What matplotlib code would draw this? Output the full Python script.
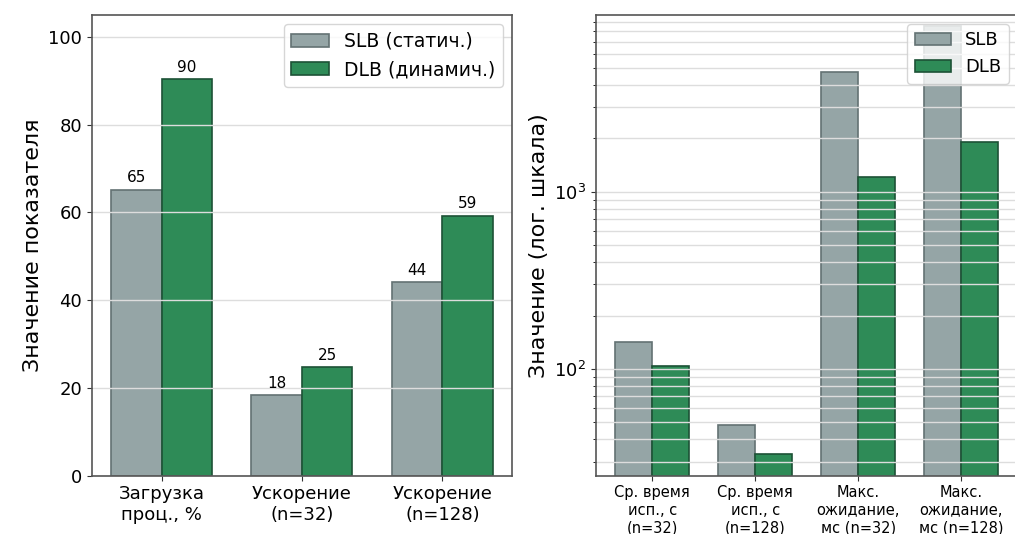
import matplotlib
matplotlib.use("Agg")
import matplotlib.pyplot as plt
import numpy as np

# Левый график: загрузка и ускорение
left_labels = ["Загрузка\nпроц., %", "Ускорение\n(n=32)", "Ускорение\n(n=128)"]
left_slb = [65.2, 18.3, 44.1]
left_dlb = [90.4, 24.7, 59.3]

# Правый график: время и ожидание (лог. шкала)
right_labels = ["Ср. время\nисп., с\n(n=32)", "Ср. время\nисп., с\n(n=128)",
                "Макс.\nожидание,\nмс (n=32)", "Макс.\nожидание,\nмс (n=128)"]
right_slb = [142, 48.3, 4730, 8600]
right_dlb = [104.5, 33.0, 1210, 1900]

slb_color = "#95a5a6"
slb_edge = "#637273"
dlb_color = "#2e8b57"
dlb_edge = "#1d5236"
width = 0.36

fig = plt.figure(figsize=(10.15, 5.34), dpi=100)
ax1 = fig.add_axes([0.0906, 0.1092, 0.4138, 0.8627])
ax2 = fig.add_axes([0.5872, 0.1092, 0.4153, 0.8627])

for ax in (ax1, ax2):
    for s in ax.spines.values():
        s.set_color("#555555")
        s.set_linewidth(1.2)
    ax.tick_params(colors="#333333", labelcolor="black")

# --- левый
x = np.arange(len(left_labels))
b1 = ax1.bar(x - width / 2, left_slb, width, color=slb_color, edgecolor=slb_edge,
             linewidth=1.2, label="SLB (статич.)")
b2 = ax1.bar(x + width / 2, left_dlb, width, color=dlb_color, edgecolor=dlb_edge,
             linewidth=1.2, label="DLB (динамич.)")
ax1.bar_label(b1, fmt="%.0f", padding=3, fontsize=11)
ax1.bar_label(b2, fmt="%.0f", padding=3, fontsize=11)
ax1.set_ylim(0, 105)
ax1.set_xticks(x)
ax1.set_xticklabels(left_labels, fontsize=13)
ax1.tick_params(axis="y", labelsize=13)
ax1.set_ylabel("Значение показателя", fontsize=16)
ax1.yaxis.grid(True, color="#dddddd", linewidth=1)
ax1.legend(loc="upper right", fontsize=13.5)

# --- правый
x2 = np.arange(len(right_labels))
ax2.bar(x2 - width / 2, right_slb, width, color=slb_color, edgecolor=slb_edge,
        linewidth=1.2, label="SLB")
ax2.bar(x2 + width / 2, right_dlb, width, color=dlb_color, edgecolor=dlb_edge,
        linewidth=1.2, label="DLB")
ax2.set_yscale("log")
ax2.set_ylim(25, 9900)
ax2.set_xticks(x2)
ax2.set_xticklabels(right_labels, fontsize=10.5)
ax2.tick_params(axis="y", labelsize=13)
ax2.set_ylabel("Значение (лог. шкала)", fontsize=16)
ax2.yaxis.grid(True, which="both", color="#dddddd", linewidth=1)
ax2.legend(loc="upper right", fontsize=13)

fig.savefig("out.png", dpi=100)
